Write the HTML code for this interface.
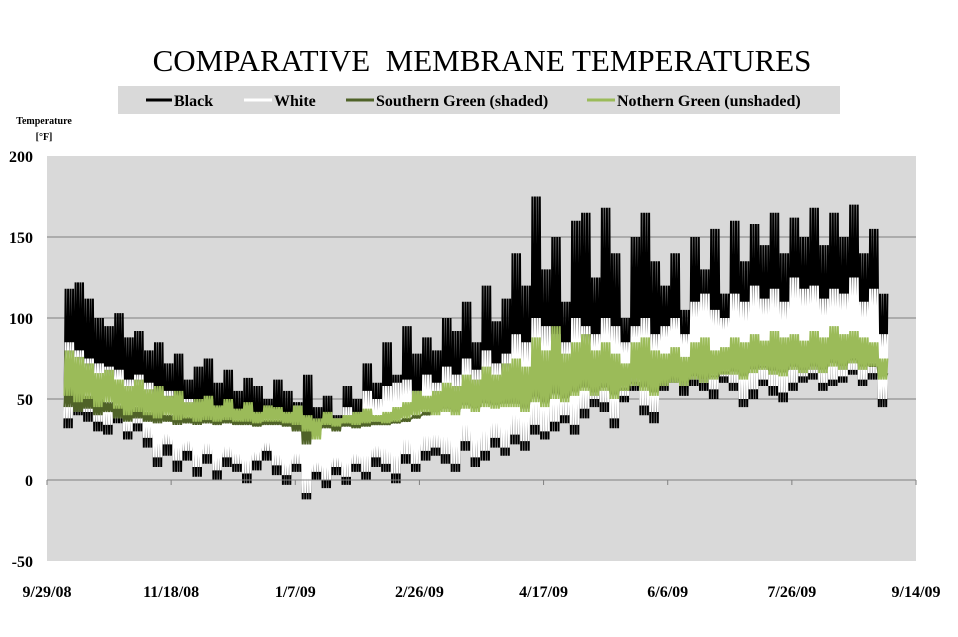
<!DOCTYPE html>
<html><head><meta charset="utf-8"><style>
body{margin:0;background:#fff;width:958px;height:632px;overflow:hidden;font-family:"Liberation Serif",serif}
</style></head><body>
<svg width="958" height="632" xmlns="http://www.w3.org/2000/svg">
<text x="482" y="71" text-anchor="middle" font-size="31" font-family="Liberation Serif,serif" xml:space="preserve">COMPARATIVE  MEMBRANE TEMPERATURES</text>
<g>
<rect x="118" y="86" width="722" height="28" fill="#d9d9d9"/>
<g><line x1="146" y1="100" x2="172" y2="100" stroke="#000" stroke-width="3"/><text x="174" y="106" font-size="16" font-weight="bold">Black</text></g>
<g><line x1="244" y1="100" x2="272" y2="100" stroke="#fff" stroke-width="3"/><text x="274" y="106" font-size="16" font-weight="bold">White</text></g>
<g><line x1="346" y1="100" x2="374" y2="100" stroke="#4f6228" stroke-width="3"/><text x="376" y="106" font-size="16" font-weight="bold">Southern Green (shaded)</text></g>
<g><line x1="587" y1="100" x2="615" y2="100" stroke="#9bbb59" stroke-width="3"/><text x="617" y="106" font-size="16" font-weight="bold">Nothern Green (unshaded)</text></g>
</g>
<text x="44" y="124" text-anchor="middle" font-size="10" font-weight="bold">Temperature</text>
<text x="44" y="140" text-anchor="middle" font-size="10" font-weight="bold">[°F]</text>
<rect x="47" y="156" width="869" height="405" fill="#d9d9d9"/>
<g id="grid"></g><g id="series"></g><g id="axes"></g>
</svg>
<script>
const yTicks=[-50,0,50,100,150,200];
const xTickLabels=["9/29/08","11/18/08","1/7/09","2/26/09","4/17/09","6/6/09","7/26/09","9/14/09"];
const xTickDays=[0,50,100,150,200,250,300,350];
const sampleStartDay=7, sampleStepDays=4;
const blackHi=[118,122,112,100,95,103,88, 92,80,85,72,78,62,70, 75,60,68,55,63,58,50,62, 55,48,65,45,52,40,58,50, 72,60,85,65,95,78,88, 80,100,92,110,85,120,98,112, 140,120,175,130,150,110,160, 165,125,168,140,100,150,165,135, 120,140,105,150,130,155,115, 160,135,158,145,165,140,162,150, 168,145,165,150,170,140,155,115];
const blackLo=[32,40,36,30,28,35,25, 30,20,8,15,5,12,2, 10,0,8,5,-2,6,12,3, -3,5,-12,0,-5,3,-3,5, 0,8,5,-2,10,5,12, 15,10,5,18,8,12,20,15, 22,18,28,25,30,35,28, 38,45,42,32,48,55,40,35, 55,60,52,58,55,50,60, 55,45,50,58,52,48,55,60, 62,55,58,60,65,58,62,45];
const whiteHi=[85,80,75,72,70,68,62, 65,60,58,55,52,50,48, 50,45,48,42,45,40,44,42, 40,42,38,35,40,38,45,42, 55,50,58,60,62,55,65, 60,70,65,75,68,80,72,78, 90,85,100,95,90,85,100, 95,90,100,95,85,95,100,90, 95,100,90,110,115,105,100, 115,110,120,112,118,110,125,118, 120,112,118,115,125,110,118,90];
const whiteLo=[38,45,42,36,34,40,30, 35,26,14,22,12,18,8, 16,6,14,10,4,12,18,9, 3,10,-8,5,0,8,2,10, 5,14,10,4,16,10,18, 20,16,10,24,14,18,26,20, 28,24,34,30,36,40,34, 44,50,48,38,52,60,46,42, 60,64,58,62,60,56,64, 60,50,56,62,58,54,60,64, 66,60,62,64,68,62,66,50];
const southHi=[58,55,52,50,48,46,44, 45,42,44,40,42,39,40, 40,38,39,37,38,36,37,37, 36,37,36,36,36,36,36,36, 36,36,36,37,38,40,42, 45,48,46,50,48,52,50,52, 55,52,60,55,62,55,60, 62,58,60,58,56,60,62,58, 62,64,62,66,66,64,66, 70,68,72,70,72,70,72,70, 74,72,76,74,75,72,70,66];
const southLo=[45,42,44,40,42,38,36, 38,36,35,36,34,35,34, 35,34,35,34,34,33,34,34, 33,30,22,28,32,30,33,32, 33,34,34,35,36,38,40, 42,44,42,46,44,47,46,47, 47,44,50,47,52,50,54, 57,54,57,52,57,60,57,54, 60,62,60,64,62,64,67, 67,64,68,70,67,66,70,68, 70,68,72,70,74,70,72,64];
const northHi=[80,76,72,66,68,62,58, 62,56,58,52,55,48,50, 52,46,50,44,48,42,46,45, 42,46,40,38,42,38,40,42, 44,40,42,45,48,55,52, 55,60,58,65,62,70,65,72, 75,70,88,80,95,78,85, 90,80,85,78,72,85,88,80, 78,82,76,85,88,80,82, 88,85,90,86,92,88,90,86, 92,88,95,90,92,88,85,75];
const northLo=[52,48,50,45,48,44,40, 42,40,38,40,37,38,36, 37,36,37,36,36,35,36,36, 35,34,30,25,34,33,35,34, 35,36,35,36,38,40,42, 40,42,40,44,42,45,44,45, 45,42,48,45,50,48,52, 55,52,55,50,55,58,55,52, 58,60,58,62,60,62,65, 65,62,66,68,65,64,68,66, 68,66,70,68,72,68,70,62];
const NS='http://www.w3.org/2000/svg';
const X0=47,X1=916,Y0=561,Y1=156,D0=0,D1=350,V0=-50,V1=200;
const xs=d=>X0+(d-D0)/(D1-D0)*(X1-X0);
const ys=v=>Y0-(v-V0)/(V1-V0)*(Y0-Y1);
const grid=document.getElementById('grid'),ser=document.getElementById('series'),ax=document.getElementById('axes');
function mk(t,a,p){const e=document.createElementNS(NS,t);for(const k in a)e.setAttribute(k,a[k]);p.appendChild(e);return e;}
yTicks.forEach(v=>{
 if(v>V0&&v<V1){const g=mk('line',{x1:X0,x2:X1,y1:ys(v),y2:ys(v),stroke:'#808080','stroke-width':1},grid);
 
 }
 const t=mk('text',{x:33,y:ys(v)+6,'text-anchor':'end','font-size':16,'font-weight':'bold'},ax);t.textContent=v;
 
 
});
const zl=mk('line',{x1:X0,x2:X1,y1:ys(0),y2:ys(0),stroke:'#808080'},ax);


xTickDays.forEach((d,i)=>{
 const tk=mk('line',{x1:xs(d),x2:xs(d),y1:ys(0),y2:ys(0)+5,stroke:'#808080'},ax);
 
 
 const t=mk('text',{x:xs(d),y:597,'text-anchor':'middle','font-size':16,'font-weight':'bold'},ax);t.textContent=xTickLabels[i];
 
 
});
function series(lo,hi,color,w,name){
 let p='';
 for(let i=0;i<lo.length;i++){
  for(let k=0;k<sampleStepDays;k++){
   const d=sampleStartDay+i*sampleStepDays+k;
   p+=(p?'L':'M')+xs(d).toFixed(1)+','+ys(lo[i]).toFixed(1)+'L'+xs(d+0.5).toFixed(1)+','+ys(hi[i]).toFixed(1);
  }
 }
 const e=mk('path',{d:p,fill:'none',stroke:color,'stroke-width':w,'stroke-linejoin':'bevel'},ser);
 
 
}
series(blackLo,blackHi,'#000',2,'series-black');
series(whiteLo,whiteHi,'#fff',2,'series-white');
series(southLo,southHi,'#4f6228',2,'series-southern-green');
series(northLo,northHi,'#9bbb59',2,'series-northern-green');
</script>
</body></html>
